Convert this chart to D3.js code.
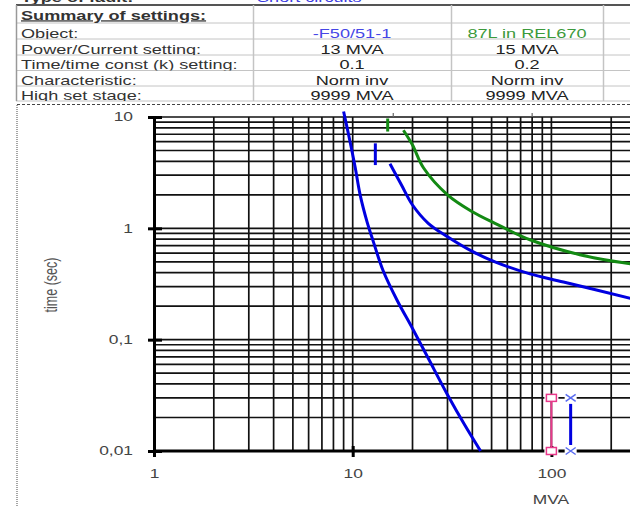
<!DOCTYPE html>
<html>
<head>
<meta charset="utf-8">
<script src="https://cdn.jsdelivr.net/npm/d3@7"></script>
<style>
  html, body { margin: 0; padding: 0; background: #fff; }
  svg { display: block; font-family: "Liberation Sans", Arial, sans-serif; }
</style>
</head>
<body>
<svg id="chart" width="630" height="507"></svg>
<script>
// Settings table
const rowLabels = ["Summary of settings:", "Object:", "Power/Current setting:",
  "Time/time const (k) setting:", "Characteristic:", "High set stage:"];
const relayA = ["", "-F50/51-1", "13 MVA", "0.1", "Norm inv", "9999 MVA"];
const relayB = ["", "87L in REL670", "15 MVA", "0.2", "Norm inv", "9999 MVA"];

// Axis ticks
const xTicks = [1, 10, 100];
const xTickLabels = ["1", "10", "100"];
const yTicks = [10, 1, 0.1, 0.01];
const yTickLabels = ["10", "1", "0,1", "0,01"];

// Curves, [MVA, seconds]
const steepCurve = [[9.0, 11.2], [9.7, 6.0], [10.3, 3.5], [10.9, 2.0], [11.8, 1.15],
  [12.7, 0.76], [14.2, 0.42], [16.7, 0.227], [20, 0.126], [24, 0.068], [30, 0.032],
  [36.7, 0.017], [44, 0.01]];
const relayACurve = [[15.4, 3.8], [17.6, 2.45], [20, 1.62], [24, 1.11], [30, 0.84],
  [40, 0.62], [52, 0.5], [78, 0.39], [115, 0.33], [250, 0.235]];
const relayBCurve = [[18, 7.6], [20, 5.6], [22.7, 3.5], [30, 2.0], [40, 1.41],
  [52, 1.11], [78, 0.79], [139, 0.58], [250, 0.48]];
const relayAPickup = [[13, 5.8], [13, 3.7]];
const relayBPickup = [[15, 9.7], [15, 7.4]];
const pinkMarks = [[100, 0.03], [100, 0.01]];
const crossMarks = [[125, 0.03], [125, 0.01]];
const topMarks = [16, 80];

const SX = 1.45; // text in the picture is stretched sideways
const BLUE = "#0000e0", GREEN = "#138a13", PINK = "#e8388a", LIGHTBLUE = "#5a6cf0";

const svg = d3.select("#chart");

// ---------- table ----------
const colX = [16, 253, 451, 603, 630];
const rowY = [5, 23, 39, 55, 70.5, 86, 101];
const tbl = svg.append("g");
const defs = svg.append("defs");

// cut-off row above the table
tbl.append("text").attr("transform", `translate(21,1.5) scale(${SX},1)`)
  .attr("font-size", 12.5).attr("font-weight", "bold").attr("fill", "#333")
  .text("Type of fault:");
tbl.append("text").attr("transform", `translate(257,1.5) scale(${SX},1)`)
  .attr("font-size", 12.5).attr("fill", "#3c3ce0")
  .text("Short circuits");

rowY.slice(1).forEach(y => {
  tbl.append("line").attr("x1", colX[0]).attr("x2", 630).attr("y1", y).attr("y2", y)
    .attr("stroke", "#c4c4c4").attr("stroke-width", 1);
});
tbl.append("line").attr("x1", colX[0]).attr("x2", 630).attr("y1", rowY[0]).attr("y2", rowY[0])
  .attr("stroke", "#555").attr("stroke-width", 2);
colX.slice(0, 4).forEach((x, i) => {
  tbl.append("line").attr("x1", x + 0.5).attr("x2", x + 0.5)
    .attr("y1", rowY[0]).attr("y2", rowY[6])
    .attr("stroke", i === 0 ? "#999" : "#c4c4c4").attr("stroke-width", 1.5);
});

rowLabels.forEach((lab, i) => {
  defs.append("clipPath").attr("id", "row" + i)
    .append("rect").attr("x", colX[0]).attr("y", rowY[i] + 1)
    .attr("width", 630 - colX[0]).attr("height", rowY[i + 1] - rowY[i] - 1);
  const row = tbl.append("g").attr("clip-path", `url(#row${i})`);
  const base = i === 0 ? rowY[1] - 3.5 : rowY[i + 1] - 1.5;
  const t = row.append("text").attr("transform", `translate(21,${base}) scale(${SX},1)`)
    .attr("font-size", 12.5).attr("fill", "#333").text(lab);
  if (i === 0) t.attr("font-weight", "bold").attr("text-decoration", "underline");
  [[relayA, (colX[1] + colX[2]) / 2], [relayB, (colX[2] + colX[3]) / 2]].forEach(([col, cx], j) => {
    row.append("text").attr("transform", `translate(${cx},${base}) scale(${SX},1)`)
      .attr("font-size", 12.5).attr("text-anchor", "middle")
      .attr("fill", i === 1 ? (j === 0 ? "#4646e6" : "#3c9a3c") : "#222")
      .text(col[i]);
  });
});

// dashed separator + left border
svg.append("line").attr("x1", 17).attr("x2", 630).attr("y1", 104.5).attr("y2", 104.5)
  .attr("stroke", "#444").attr("stroke-width", 1).attr("stroke-dasharray", "3,2");
svg.append("line").attr("x1", 17).attr("x2", 17).attr("y1", 105).attr("y2", 507)
  .attr("stroke", "#888").attr("stroke-width", 1.5).attr("stroke-dasharray", "1,1");

// ---------- chart ----------
const x = d3.scaleLog().domain([1, 1000]).range([154, 154 + 3 * 198.7]);
const y = d3.scaleLog().domain([0.01, 10]).range([451, 117]);

const grid = svg.append("g").attr("stroke", "#111").attr("stroke-width", 1.7);
grid.selectAll(".v").data(x.ticks()).join("line")
  .attr("x1", d => x(d)).attr("x2", d => x(d))
  .attr("y1", y(10)).attr("y2", y(0.01));
grid.selectAll(".h").data(y.ticks()).join("line")
  .attr("x1", x(1)).attr("x2", x(1000))
  .attr("y1", d => y(d)).attr("y2", d => y(d));

svg.append("g").selectAll("line").data(topMarks).join("line")
  .attr("x1", d => x(d)).attr("x2", d => x(d)).attr("y1", 113).attr("y2", 117)
  .attr("stroke", "#666").attr("stroke-width", 1.2);

// axes
const yAxis = svg.append("g").attr("transform", `translate(${x(1)},0)`)
  .call(d3.axisLeft(y).tickValues(yTicks).tickSizeOuter(0).tickSize(6)
    .tickFormat((d, i) => yTickLabels[i]));
const xAxis = svg.append("g").attr("transform", `translate(0,${y(0.01)})`)
  .call(d3.axisBottom(x).tickValues(xTicks).tickSizeOuter(0).tickSize(6)
    .tickFormat((d, i) => xTickLabels[i]));
[yAxis, xAxis].forEach(a => {
  a.select(".domain").attr("stroke", "#000").attr("stroke-width", 3);
  a.selectAll(".tick line").attr("stroke", "#000").attr("stroke-width", 3);
  a.selectAll("text").attr("font-size", 12).attr("fill", "#444")
    .attr("font-family", "Liberation Sans, Arial, sans-serif");
});
xAxis.select(".domain").attr("d", `M${x(1)},0H630`);
yAxis.selectAll(".tick line").attr("x1", -6).attr("x2", 8);
yAxis.selectAll("text").attr("x", -21 / SX).attr("transform", `scale(${SX},1)`);
xAxis.selectAll(".tick line").attr("y1", -5).attr("y2", 6);
xAxis.selectAll("text").attr("y", 18).attr("transform", `scale(${SX},1)`);

svg.append("text").attr("transform", `translate(57,285) scale(${SX},1) rotate(-90)`)
  .attr("text-anchor", "middle").attr("font-size", 12.5).attr("fill", "#555")
  .text("time (sec)");
svg.append("text").attr("transform", `translate(551,504) scale(${SX},1)`)
  .attr("text-anchor", "middle").attr("font-size", 12).attr("fill", "#444")
  .text("MVA");

// curves
const line = d3.line().x(d => x(d[0])).y(d => y(d[1])).curve(d3.curveCatmullRom.alpha(0.5));
const vline = d3.line().x(d => x(d[0])).y(d => y(d[1]));
const curves = svg.append("g").attr("fill", "none").attr("stroke-width", 3);
curves.append("path").datum(steepCurve).attr("d", line).attr("stroke", BLUE);
curves.append("path").datum(relayACurve).attr("d", line).attr("stroke", BLUE);
curves.append("path").datum(relayBCurve).attr("d", line).attr("stroke", GREEN);
curves.append("path").datum(relayAPickup).attr("d", vline).attr("stroke", BLUE);
curves.append("path").datum(relayBPickup).attr("d", vline).attr("stroke", GREEN);

// pink squares with connecting line
const marks = svg.append("g");
marks.append("path").datum(pinkMarks).attr("d", vline)
  .attr("stroke", PINK).attr("stroke-width", 2).attr("fill", "none");
marks.selectAll(".sqbg").data(pinkMarks).join("rect")
  .attr("x", d => x(d[0]) - 7).attr("y", d => y(d[1]) - 4).attr("width", 14).attr("height", 8)
  .attr("fill", "#fff");
marks.selectAll(".sq").data(pinkMarks).join("rect")
  .attr("x", d => x(d[0]) - 5).attr("y", d => y(d[1]) - 3.5).attr("width", 10).attr("height", 7)
  .attr("fill", "#fff").attr("stroke", PINK).attr("stroke-width", 1.5);

// blue crosses with a line between them
marks.append("line")
  .attr("x1", x(crossMarks[0][0])).attr("x2", x(crossMarks[0][0]))
  .attr("y1", y(crossMarks[0][1]) + 6).attr("y2", y(crossMarks[1][1]) - 6)
  .attr("stroke", BLUE).attr("stroke-width", 3);
marks.selectAll(".xbg").data(crossMarks).join("rect")
  .attr("x", d => x(d[0]) - 6).attr("y", d => y(d[1]) - 4).attr("width", 12).attr("height", 8)
  .attr("fill", "#fff");
marks.selectAll(".x").data(crossMarks).join("path")
  .attr("d", d => {
    const cx = x(d[0]), cy = y(d[1]);
    return `M${cx - 5},${cy - 3.5}L${cx + 5},${cy + 3.5}M${cx - 5},${cy + 3.5}L${cx + 5},${cy - 3.5}`;
  })
  .attr("stroke", LIGHTBLUE).attr("stroke-width", 1.5).attr("fill", "none");
</script>
</body>
</html>
